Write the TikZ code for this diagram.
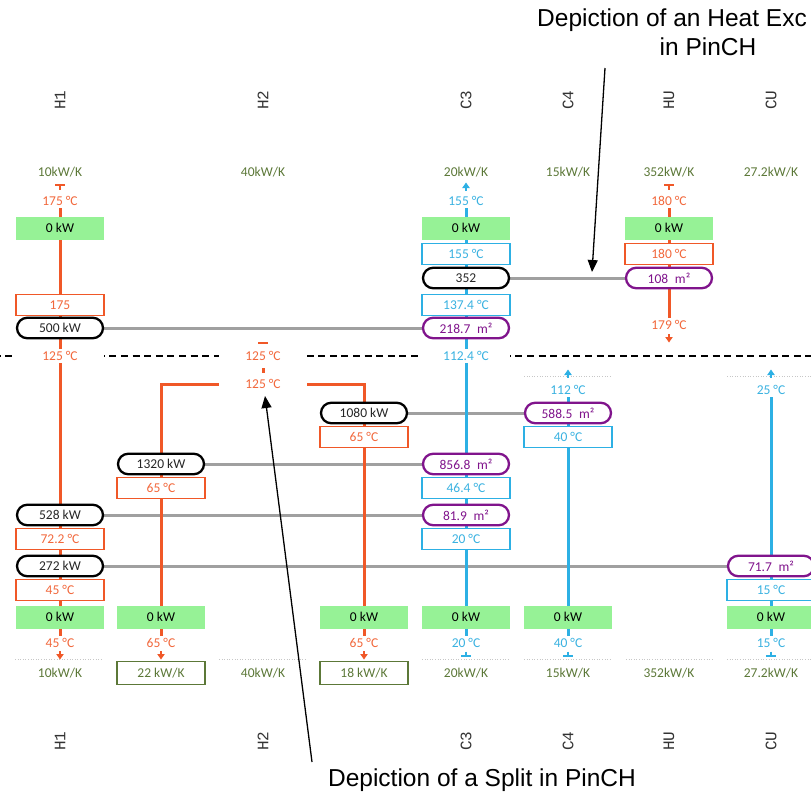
\documentclass[tikz,border=0pt]{standalone}
\usepackage{fontspec}
\setmainfont{Carlito}
\newfontfamily\annfont{Liberation Sans}
\newfontfamily\lblfont{Liberation Mono}
\usetikzlibrary{shapes.misc,arrows.meta}
\definecolor{hot}{RGB}{240,88,40}
\definecolor{hottxt}{RGB}{242,104,60}
\definecolor{cold}{RGB}{45,176,228}
\definecolor{coldtxt}{RGB}{58,178,225}
\definecolor{grn}{RGB}{150,242,150}
\definecolor{purp}{RGB}{128,20,140}
\definecolor{olive}{RGB}{92,120,56}
\definecolor{hxgray}{RGB}{160,160,160}
\newcommand\fsz{\fontsize{13.5}{15}\selectfont}
\pgfdeclarelayer{bg}
\pgfdeclarelayer{mid}
\pgfsetlayers{bg,mid,main}
\tikzset{
  cell/.style={minimum width=88pt, inner sep=0pt, font=\fsz},
  gbox/.style={cell, fill=grn, minimum height=23pt, text=black},
  hbox/.style={cell, draw=hot, line width=1.1pt, fill=white, text=hottxt, minimum height=21.5pt},
  cbox/.style={cell, draw=cold, line width=1.1pt, fill=white, text=coldtxt, minimum height=21.5pt},
  kpill/.style={cell, rounded rectangle, draw=black, line width=2.3pt, fill=white, minimum height=20.5pt, minimum width=86pt, text=black!85},
  ppill/.style={kpill, draw=purp, text=purp},
  htxt/.style={cell, fill=white, text=hottxt, minimum height=14pt},
  ctxt/.style={cell, fill=white, text=coldtxt, minimum height=14pt},
  flow/.style={inner sep=0pt, font=\fsz, text=olive},
  fbox/.style={cell, draw=olive, line width=1.1pt, text=olive, minimum height=22.5pt},
  lbl/.style={rotate=90, inner sep=0pt, font=\lblfont\fontsize{16}{18}\selectfont, text=black!80},
  ann/.style={inner sep=0pt, font=\annfont\fontsize{24.5}{27}\selectfont, text=black},
  annarrow/.style={line width=1.3pt, -{Triangle[length=12pt,width=10pt]}},
  hline/.style={hot, line width=3pt},
  cline/.style={cold, line width=3pt},
  hx/.style={hxgray, line width=3pt},
  pinch/.style={black, line width=2.8pt, dash pattern=on 7pt off 4.6pt, dash phase=-5pt},
  cellgrid/.style={black!22, line width=0.6pt, dotted},
  hmark/.style={hot, line width=2.6pt},
  cmark/.style={cold, line width=2.6pt},
}
\begin{document}
\begin{tikzpicture}[x=1pt,y=-1pt]
\clip (0,0) rectangle (811,796);

% stream labels
\foreach \n/\x/\t in {H1/60/H1, H2/263/H2, C3/466/C3, C4/568/C4, HU/669/HU, CU/771/CU}{
  \node[lbl] (t\n) at (\x,100) {\t};
  \node[lbl] (b\n) at (\x,741) {\t};
}

% top flow capacities
\node[flow] (fH1) at (60,172) {10kW/K};
\node[flow] (fH2) at (263,172) {40kW/K};
\node[flow] (fC3) at (466,172) {20kW/K};
\node[flow] (fC4) at (568,172) {15kW/K};
\node[flow] (fHU) at (669,172) {352kW/K};
\node[flow] (fCU) at (771,172) {27.2kW/K};

% above pinch
\node[htxt] (h1top) at (60,201) {175 °C};
\node[ctxt] (c3top) at (466,201) {155 °C};
\node[htxt] (hutop) at (669,201) {180 °C};
\node[gbox] (g1t) at (60,228) {0 kW};
\node[gbox] (g3t) at (466,228) {0 kW};
\node[gbox] (gHUt) at (669,228) {0 kW};
\node[cbox] (c3a) at (466,254) {155 °C};
\node[kpill] (e352) at (466,278) {352};
\node[cbox] (c3b) at (466,305) {137.4 °C};
\node[ppill] (a2187) at (466,328) {218.7\enspace m²};
\node[ctxt] (c3p) at (466,356) {112.4 °C};
\node[hbox] (h1a) at (60,305) {175};
\node[kpill] (e500) at (60,328) {500 kW};
\node[htxt] (h1p) at (60,356) {125 °C};
\node[hbox] (hua) at (669,254) {180 °C};
\node[ppill] (a108) at (669,278) {108\enspace m²};
\node[htxt] (hubot) at (669,325) {179 °C};
\node[htxt] (h2p) at (263,356) {125 °C};
\node[htxt] (h2s) at (263,384) {125 °C};

% below pinch
\node[ctxt] (c4top) at (568,390) {112 °C};
\node[ppill] (a5885) at (568,413) {588.5\enspace m²};
\node[cbox] (c4a) at (568,437) {40 °C};
\node[ctxt] (cutop) at (771,390) {25 °C};
\node[kpill] (e1080) at (364,413) {1080 kW};
\node[hbox] (b2a) at (364,437) {65 °C};
\node[kpill] (e1320) at (161,464) {1320 kW};
\node[hbox] (b1a) at (161,488) {65 °C};
\node[ppill] (a8568) at (466,464) {856.8\enspace m²};
\node[cbox] (c3c) at (466,488) {46.4 °C};
\node[kpill] (e528) at (60,515) {528 kW};
\node[hbox] (h1b) at (60,539) {72.2 °C};
\node[ppill] (a819) at (466,515) {81.9\enspace m²};
\node[cbox] (c3d) at (466,539) {20 °C};
\node[kpill] (e272) at (60,566) {272 kW};
\node[hbox] (h1c) at (60,590) {45 °C};
\node[ppill] (a717) at (771,566) {71.7\enspace m²};
\node[cbox] (cua) at (771,590) {15 °C};

% bottom green boxes
\node[gbox] (g1b) at (60,617) {0 kW};
\node[gbox] (gb1) at (161,617) {0 kW};
\node[gbox] (gb2) at (364,617) {0 kW};
\node[gbox] (g3b) at (466,617) {0 kW};
\node[gbox] (g4b) at (568,617) {0 kW};
\node[gbox] (gCUb) at (771,617) {0 kW};

% bottom temps
\node[htxt] (h1bot) at (60,643) {45 °C};
\node[htxt] (b1bot) at (161,643) {65 °C};
\node[htxt] (b2bot) at (364,643) {65 °C};
\node[ctxt] (c3bot) at (466,643) {20 °C};
\node[ctxt] (c4bot) at (568,643) {40 °C};
\node[ctxt] (cubot) at (771,643) {15 °C};

% bottom flow capacities
\node[flow] (gH1) at (60,673) {10kW/K};
\node[fbox] (gB1) at (161,673) {22 kW/K};
\node[flow] (gH2) at (263,673) {40kW/K};
\node[fbox] (gB2) at (364,673) {18 kW/K};
\node[flow] (gC3) at (466,673) {20kW/K};
\node[flow] (gC4) at (568,673) {15kW/K};
\node[flow] (gHU) at (669,673) {352kW/K};
\node[flow] (gCU) at (771,673) {27.2kW/K};

% annotations
\node[ann, anchor=west] (annHX) at (537,20) {Depiction of an Heat Exc};
\node[ann] (annHX2) at (708,47) {in PinCH};
\node[ann] (annSp) at (482,780) {Depiction of a Split in PinCH};
\coordinate (hxtail) at (605,68);
\coordinate (hxtip) at (592,272);
\coordinate (sptail) at (312,762);
\coordinate (sptip) at (265,396);
\draw[annarrow] (hxtail) -- (hxtip);
\draw[annarrow] (sptail) -- (sptip);

\begin{pgfonlayer}{bg}
  \draw[pinch] (0,356) -- (811,356);
  \draw[hx] (e352.east) -- (a108.west);
  \draw[hx] (e500.east) -- (a2187.west);
  \draw[hx] (e1080.east) -- (a5885.west);
  \draw[hx] (e1320.east) -- (a8568.west);
  \draw[hx] (e528.east) -- (a819.west);
  \draw[hx] (e272.east) -- (a717.west);
  \foreach \a/\b in {15/103, 219/307, 422/510, 524/612, 626/713, 727/811}
    \draw[cellgrid] (\a,659) -- (\b,659);
  \draw[cellgrid] (524,376) -- (612,376);
  \draw[cellgrid] (727,376) -- (811,376);
\end{pgfonlayer}

\begin{pgfonlayer}{mid}
  \draw[hline] (h1top.south) -- (h1bot.north);
  \draw[hline] (hutop.south) -- ([yshift=-6pt]hubot.north);
  \draw[hline] (h2s.west) -| (b1bot.north);
  \draw[hline] (h2s.east) -| (b2bot.north);
  \draw[hline] (263,368) -- (263,373);
  \draw[cline] (c3top.south) -- (c3bot.north);
  \draw[cline] (c4top.south) -- (c4bot.north);
  \draw[cline] (cutop.south) -- (cubot.north);
  % hot start markers (T)
  \foreach \x in {60,669}{
    \draw[hmark] (\x-5,185) -- (\x+5,185);
    \draw[hot, line width=2pt] (\x,185) -- (\x,189.5);
  }
  \draw[hmark] (258,343) -- (268,343);
  % hot end markers (arrow down)
  \foreach \x/\y in {60/656, 161/656, 364/656, 669/339}{
    \draw[hot, line width=2pt] (\x,\y-5) -- (\x,\y-1);
    \fill[hot] (\x-3.8,\y-2) -- (\x+3.8,\y-2) -- (\x,\y+3.5) -- cycle;
  }
  % cold end markers (arrow up)
  \foreach \x/\y in {466/186, 568/373, 771/373}{
    \draw[cold, line width=2pt] (\x,\y+1) -- (\x,\y+5);
    \fill[cold] (\x-3.8,\y+2) -- (\x+3.8,\y+2) -- (\x,\y-3.5) -- cycle;
  }
  % cold start markers (inverted T)
  \foreach \x in {466,568,771}{
    \draw[cmark] (\x-5,656) -- (\x+5,656);
    \draw[cold, line width=2pt] (\x,651.5) -- (\x,656);
  }
\end{pgfonlayer}
\end{tikzpicture}
\end{document}
